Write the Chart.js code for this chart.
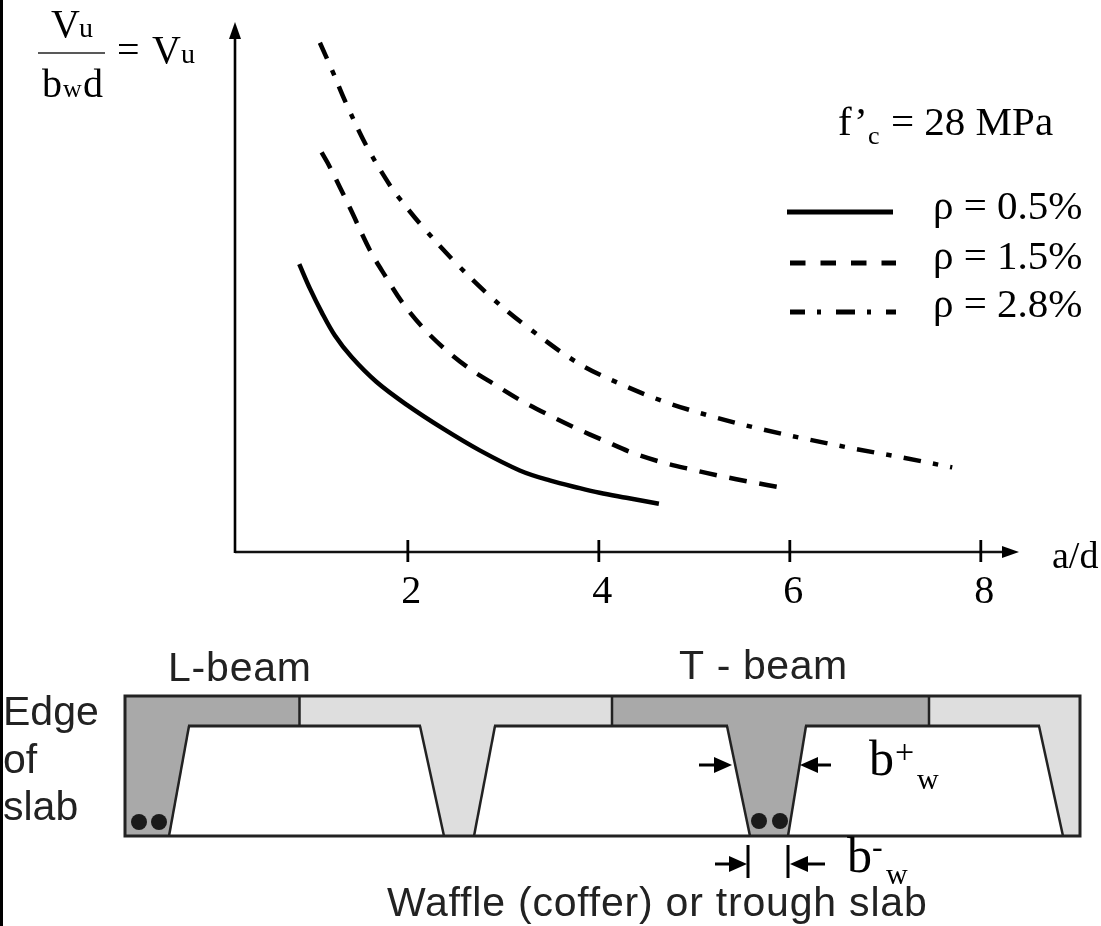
<!DOCTYPE html>
<html>
<head>
<meta charset="utf-8">
<style>html,body{margin:0;padding:0;background:#fff}canvas{display:block}</style>
<script src="https://cdn.jsdelivr.net/npm/chart.js@4"></script>
</head>
<body>
<canvas id="c" width="1101" height="926"></canvas>
<script>
const xTicks = [2, 4, 6, 8];
const seriesLabels = ['ρ = 0.5%', 'ρ = 1.5%', 'ρ = 2.8%'];
const rho05X = [0.863,0.975,1.097,1.236,1.411,1.673,1.986,2.369,2.753,3.172,3.485,3.8,4.008,4.288,4.629];
const rho05Y = [5.41,4.95,4.51,4.07,3.665,3.195,2.77,2.318,1.91,1.533,1.345,1.2,1.114,1.02,0.907];
const rho15X = [1.097,1.184,1.393,1.603,1.77,1.948,2.154,2.387,2.631,2.91,3.182,3.468,3.757,4.05,4.35,4.654,4.968,5.281,5.601,5.92];
const rho15Y = [7.51,7.234,6.469,5.673,5.17,4.675,4.224,3.816,3.466,3.146,2.85,2.581,2.329,2.098,1.866,1.69,1.552,1.426,1.313,1.208];
const rho28X = [1.079,1.215,1.348,1.568,1.829,1.927,2.15,2.492,2.858,3.242,3.778,4.235,4.706,5.194,5.682,6.177,6.676,7.171,7.701];
const rho28Y = [9.573,9.022,8.457,7.629,6.845,6.613,6.124,5.453,4.813,4.243,3.556,3.151,2.813,2.544,2.318,2.122,1.942,1.778,1.59];

const SERIF = '"Liberation Serif"';
const SANS = '"Liberation Sans"';
const pts = (xs, ys) => xs.map((x, i) => ({x, y: ys[i]}));

function text(ctx, s, x, y, size, fam, color, spacing) {
  ctx.font = size + 'px ' + (fam || SERIF);
  ctx.fillStyle = color || '#000';
  ctx.textAlign = 'left';
  ctx.textBaseline = 'alphabetic';
  ctx.letterSpacing = (spacing || 0) + 'px';
  ctx.fillText(s, x, y);
  ctx.letterSpacing = '0px';
}
function poly(ctx, p, fill) {
  ctx.beginPath();
  p.forEach((q, i) => i ? ctx.lineTo(q[0], q[1]) : ctx.moveTo(q[0], q[1]));
  ctx.closePath();
  ctx.fillStyle = fill;
  ctx.fill();
}
function seg(ctx, x1, y1, x2, y2, w, color) {
  ctx.beginPath();
  ctx.moveTo(x1, y1); ctx.lineTo(x2, y2);
  ctx.lineWidth = w; ctx.strokeStyle = color || '#000'; ctx.setLineDash([]); ctx.lineCap = 'butt';
  ctx.stroke();
}

const axesPlugin = {
  id: 'axesPlugin',
  afterDraw(chart) {
    const {ctx, chartArea: a, scales} = chart;
    ctx.save();
    const y0 = a.bottom, x0 = a.left;
    seg(ctx, x0, y0, 1006, y0, 2.6, '#111');
    seg(ctx, x0, a.top + 14, x0, y0 + 1, 2.6, '#000');
    poly(ctx, [[x0, 22], [x0 - 6, 39], [x0 + 6, 39]], '#000');
    poly(ctx, [[1019, y0], [1002, y0 - 6], [1002, y0 + 6]], '#000');
    xTicks.forEach(v => {
      const px = scales.x.getPixelForValue(v);
      seg(ctx, px, y0 - 12, px, y0 + 10, 2.8);
    });
    ctx.restore();
  }
};

const legendPlugin = {
  id: 'legendPlugin',
  afterDraw(chart) {
    const {ctx} = chart;
    ctx.save();
    const rows = [
      {y: 212, ty: 219, x1: 787, x2: 893, dash: [], off: 0},
      {y: 263, ty: 269, x1: 790, x2: 896, dash: [15.5, 15], off: 0},
      {y: 312, ty: 317, x1: 790, x2: 896, dash: [19, 12, 4, 15], off: 4}
    ];
    rows.forEach((r, i) => {
      ctx.beginPath();
      ctx.moveTo(r.x1, r.y); ctx.lineTo(r.x2, r.y);
      ctx.lineWidth = 5; ctx.strokeStyle = '#000'; ctx.lineCap = 'butt';
      ctx.setLineDash(r.dash); ctx.lineDashOffset = r.off;
      ctx.stroke();
      text(ctx, chart.data.datasets[i].label, 933, r.ty, 41);
    });
    ctx.setLineDash([]); ctx.lineDashOffset = 0;
    ctx.restore();
  }
};

const notesPlugin = {
  id: 'notesPlugin',
  afterDraw(chart) {
    const {ctx} = chart;
    ctx.save();
    // left page edge
    ctx.fillStyle = '#000'; ctx.fillRect(0, 0, 3, 926);
    // y axis title
    text(ctx, 'V', 51, 37, 40); text(ctx, 'u', 79, 37, 28);
    seg(ctx, 38, 53, 105, 53, 1.5, '#222');
    text(ctx, 'b', 42, 97, 40); text(ctx, 'w', 63, 97, 26); text(ctx, 'd', 83, 97, 40);
    text(ctx, '=', 117, 63, 40);
    text(ctx, 'V', 152, 63, 40); text(ctx, 'u', 181, 63, 28);
    // x axis title
    text(ctx, 'a/d', 1052, 568, 38);
    // f'c
    text(ctx, 'f’', 838, 135, 41); text(ctx, 'c', 868, 144, 26);
    text(ctx, '= 28 MPa', 891, 135, 41);

    // section diagram
    const T = 696, M = 726, B = 836, L = 125, R = 1080;
    const light = '#dedede', dark = '#a9a9a9', ink = '#222';
    poly(ctx, [[L, T], [R, T], [R, B], [L, B]], light);
    poly(ctx, [[L, T], [299, T], [299, M], [189, M], [169, B], [L, B]], dark);
    poly(ctx, [[612, T], [929, T], [929, M], [806, M], [788, B], [750, B], [727, M], [612, M]], dark);
    const holes = [
      [[189, M], [420, M], [444, B], [169, B]],
      [[495, M], [727, M], [750, B], [474, B]],
      [[806, M], [1039, M], [1063, B], [788, B]]
    ];
    holes.forEach(h => {
      poly(ctx, h, '#fff');
      seg(ctx, h[3][0], B, h[0][0], M, 2.5, ink);
      seg(ctx, h[0][0] - 1, M, h[1][0] + 1, M, 3, ink);
      seg(ctx, h[1][0], M, h[2][0], B, 2.5, ink);
    });
    ctx.beginPath();
    ctx.rect(L, T, R - L, B - T);
    ctx.lineWidth = 3; ctx.strokeStyle = ink; ctx.setLineDash([]); ctx.stroke();
    seg(ctx, 299.5, T, 299.5, M, 2.5, ink);
    seg(ctx, 612, T, 612, M, 2.5, ink);
    seg(ctx, 929, T, 929, M, 2.5, ink);
    // bars
    [[139, 822], [159, 822], [759, 821], [780, 821]].forEach(d => {
      ctx.beginPath(); ctx.arc(d[0], d[1], 8, 0, Math.PI * 2); ctx.fillStyle = '#1a1a1a'; ctx.fill();
    });
    // dimension arrows
    const arrow = (x1, x2, y) => {
      seg(ctx, x1, y, x2 - Math.sign(x2 - x1) * 12, y, 3);
      poly(ctx, [[x2, y], [x2 - Math.sign(x2 - x1) * 18, y - 8], [x2 - Math.sign(x2 - x1) * 18, y + 8]], '#000');
    };
    arrow(699, 732, 765);
    arrow(831, 800, 765);
    arrow(715, 747, 864);
    arrow(825, 790, 864);
    seg(ctx, 748, 845, 748, 878, 3);
    seg(ctx, 788, 845, 788, 878, 3);
    // diagram labels
    text(ctx, 'L-beam', 168, 681, 41, SANS, ink, 0.8);
    text(ctx, 'T - beam', 679, 679, 41, SANS, ink, 0.6);
    text(ctx, 'Edge', 3, 725, 41, SANS, ink);
    text(ctx, 'of', 3, 773, 41, SANS, ink);
    text(ctx, 'slab', 3, 820, 41, SANS, ink);
    text(ctx, 'Waffle (coffer) or trough slab', 387, 916, 41, SANS, ink, 0.8);
    text(ctx, 'b', 869, 775, 50); text(ctx, '+', 895, 763, 34); text(ctx, 'w', 917, 789, 30);
    text(ctx, 'b', 847, 872, 50); text(ctx, '-', 872, 857, 32); text(ctx, 'w', 886, 884, 30);
    ctx.restore();
  }
};

const curve = {borderColor: '#000', borderWidth: 4.5, pointRadius: 0, tension: 0.35};
new Chart(document.getElementById('c'), {
  type: 'line',
  data: {
    datasets: [
      Object.assign({label: seriesLabels[0], data: pts(rho05X, rho05Y)}, curve),
      Object.assign({label: seriesLabels[1], data: pts(rho15X, rho15Y), borderDash: [18, 12.5]}, curve),
      Object.assign({label: seriesLabels[2], data: pts(rho28X, rho28Y), borderDash: [17.5, 12.5, 5.5, 12]}, curve)
    ]
  },
  options: {
    responsive: false,
    animation: false,
    layout: {padding: {left: 235, right: 82, top: 20, bottom: 304}},
    plugins: {legend: {display: false}, tooltip: {enabled: false}, title: {display: false}},
    scales: {
      x: {
        type: 'linear', min: 0.19, max: 8.4,
        afterBuildTicks(s) { s.ticks = xTicks.map(v => ({value: v})); },
        afterFit(s) { s.height = 70; },
        grid: {display: false, drawTicks: false},
        border: {display: false},
        ticks: {color: '#000', font: {family: 'Liberation Serif', size: 40}, padding: 16, labelOffset: 3.5, maxRotation: 0, autoSkip: false}
      },
      y: {type: 'linear', display: false, min: 0, max: 10}
    }
  },
  plugins: [axesPlugin, legendPlugin, notesPlugin]
});
</script>
</body>
</html>
